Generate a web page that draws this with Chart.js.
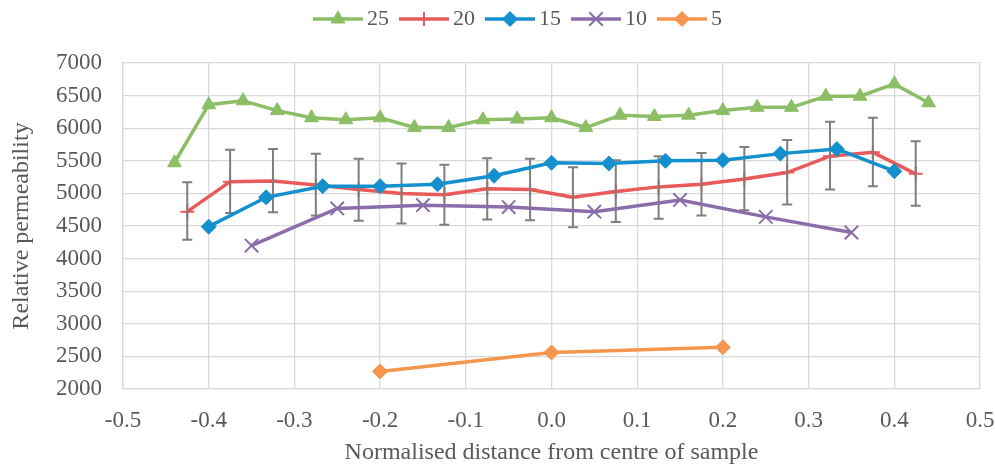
<!DOCTYPE html>
<html>
<head>
<meta charset="utf-8">
<script src="https://cdn.jsdelivr.net/npm/chart.js@4/dist/chart.umd.min.js"></script>
<style>
  html, body { margin: 0; padding: 0; background: #fff; }
</style>
</head>
<body>
<canvas id="permChart" width="995" height="466"></canvas>
<script>
// series labels as shown in legend
const seriesNames = ['25', '20', '15', '10', '5'];

// 25
const x25 = [-0.44, -0.40, -0.36, -0.32, -0.28, -0.24, -0.20, -0.16, -0.12, -0.08, -0.04, 0.00,
             0.04, 0.08, 0.12, 0.16, 0.20, 0.24, 0.28, 0.32, 0.36, 0.40, 0.44];
const perm25 = [5470, 6360, 6420, 6270, 6160, 6130, 6160, 6010, 6010, 6130, 6140, 6160,
                6010, 6200, 6180, 6200, 6270, 6320, 6320, 6490, 6490, 6680, 6390];

// 20 (with error bars)
const x20 = [-0.425, -0.375, -0.325, -0.275, -0.225, -0.175, -0.125, -0.075, -0.025,
             0.025, 0.075, 0.125, 0.175, 0.225, 0.275, 0.325, 0.375, 0.425];
const perm20 = [4720, 5180, 5190, 5130, 5060, 5000, 4980, 5070, 5060,
                4940, 5030, 5100, 5140, 5220, 5320, 5570, 5630, 5300];
const err20High = [5170, 5670, 5680, 5610, 5530, 5460, 5440, 5540, 5530,
                   5400, 5510, 5570, 5620, 5710, 5820, 6100, 6160, 5800];
const err20Low = [4290, 4700, 4710, 4660, 4580, 4540, 4520, 4600, 4590,
                  4480, 4560, 4610, 4660, 4740, 4830, 5060, 5110, 4810];

// 15
const x15 = [-0.4, -0.333, -0.267, -0.2, -0.133, -0.067, 0.0, 0.067, 0.133, 0.2, 0.267, 0.333, 0.4];
const perm15 = [4490, 4940, 5110, 5110, 5140, 5270, 5470, 5460, 5500, 5510, 5610, 5680, 5340];

// 10
const x10 = [-0.35, -0.25, -0.15, -0.05, 0.05, 0.15, 0.25, 0.35];
const perm10 = [4200, 4770, 4820, 4790, 4720, 4900, 4640, 4400];

// 5
const x5 = [-0.2, 0.0, 0.2];
const perm5 = [2270, 2560, 2640];

const FONT = 'Liberation Serif, Times New Roman, serif';
const TEXT = '#595959';
const GRID = '#D9D9D9';

const colors = ['#8CBE66', '#E95A5B', '#1590CF', '#8A6DAA', '#F5964F'];
const markers = [
    {style: 'triangle', radius: 8, border: 1},
    {style: 'cross', radius: 7, border: 2},
    {style: 'rectRot', radius: 7.5, border: 1},
    {style: 'crossRot', radius: 9.5, border: 2},
    {style: 'rectRot', radius: 7.5, border: 1}
];

const xs = [x25, x20, x15, x10, x5];
const ys = [perm25, perm20, perm15, perm10, perm5];

const datasets = seriesNames.map((name, i) => ({
    label: name,
    data: xs[i].map((x, j) => ({x: x, y: ys[i][j]})),
    borderColor: colors[i],
    backgroundColor: colors[i],
    borderWidth: 3.5,
    tension: 0,
    pointStyle: markers[i].style,
    pointRadius: markers[i].radius,
    pointHoverRadius: markers[i].radius,
    pointBorderWidth: markers[i].border,
    pointBorderColor: colors[i],
    pointBackgroundColor: colors[i],
    order: seriesNames.length - i
}));

// small canvas: line with marker in the middle, for the legend
function legendImage(i) {
    const c = document.createElement('canvas');
    c.width = 50;
    c.height = 24;
    const ctx = c.getContext('2d');
    ctx.strokeStyle = colors[i];
    ctx.fillStyle = colors[i];
    ctx.lineWidth = 3.5;
    ctx.beginPath();
    ctx.moveTo(0, 12);
    ctx.lineTo(50, 12);
    ctx.stroke();
    ctx.lineWidth = markers[i].border;
    Chart.helpers.drawPoint(ctx, {pointStyle: markers[i].style, radius: markers[i].radius, borderWidth: markers[i].border, rotation: 0}, 25, 12);
    return c;
}

const errorBars = {
    id: 'errorBars',
    afterDatasetDraw(chart, args) {
        if (args.index !== 1)
            return;
        const ctx = chart.ctx;
        const sx = chart.scales.x, sy = chart.scales.y;
        ctx.save();
        ctx.strokeStyle = '#7F7F7F';
        ctx.lineWidth = 2;
        x20.forEach((x, j) => {
            const px = sx.getPixelForValue(x);
            const top = sy.getPixelForValue(err20High[j]);
            const bot = sy.getPixelForValue(err20Low[j]);
            ctx.beginPath();
            ctx.moveTo(px, top); ctx.lineTo(px, bot);
            ctx.moveTo(px - 5, top); ctx.lineTo(px + 5, top);
            ctx.moveTo(px - 5, bot); ctx.lineTo(px + 5, bot);
            ctx.stroke();
        });
        ctx.restore();
    }
};

// nudge legend to where Excel put it
const legendShift = {
    id: 'legendShift',
    afterLayout(chart) {
        const lg = chart.legend;
        if (!lg) return;
        lg.left += 31; lg.right += 31;
        lg.top -= 23; lg.bottom -= 23;
    }
};

new Chart(document.getElementById('permChart'), {
    type: 'line',
    data: {datasets: datasets},
    plugins: [errorBars, legendShift],
    options: {
        responsive: false,
        animation: false,
        devicePixelRatio: 1,
        layout: {padding: {top: 14, right: 15, bottom: 0, left: 0}},
        plugins: {
            tooltip: {enabled: false},
            legend: {
                position: 'top',
                labels: {
                    usePointStyle: true,
                    pointStyleWidth: 36,
                    padding: 17,
                    color: TEXT,
                    font: {family: FONT, size: 22},
                    generateLabels: chart => seriesNames.map((name, i) => ({
                        text: name,
                        pointStyle: legendImage(i),
                        fillStyle: colors[i],
                        strokeStyle: colors[i],
                        lineWidth: 0,
                        hidden: false,
                        datasetIndex: i,
                        fontColor: TEXT
                    }))
                }
            }
        },
        scales: {
            x: {
                type: 'linear',
                min: -0.5,
                max: 0.5,
                ticks: {
                    stepSize: 0.1,
                    padding: 0,
                    maxRotation: 0,
                    autoSkip: false,
                    color: TEXT,
                    font: {family: FONT, size: 23},
                    callback: v => (Math.abs(v) < 1e-9 ? 0 : v).toFixed(1)
                },
                // invisible tick marks just push the labels down
                grid: {color: GRID, lineWidth: 1.3, drawTicks: true, tickLength: 18, tickColor: 'rgba(0,0,0,0)'},
                border: {color: GRID, width: 1.3},
                title: {
                    display: true,
                    text: 'Normalised distance from centre of sample',
                    color: TEXT,
                    font: {family: FONT, size: 24},
                    padding: {top: 0, bottom: -1.5}
                },
                afterFit: s => { s.height = 77; }
            },
            y: {
                min: 2000,
                max: 7000,
                ticks: {
                    stepSize: 500,
                    padding: 21,
                    color: TEXT,
                    font: {family: FONT, size: 23},
                    callback: v => String(v)
                },
                grid: {color: GRID, lineWidth: 1.3, drawTicks: false},
                border: {color: GRID, width: 1.3},
                title: {
                    display: true,
                    text: 'Relative permeability',
                    color: TEXT,
                    font: {family: FONT, size: 24},
                    padding: {top: 7, bottom: 0}
                },
                afterFit: s => { s.width = 123; }
            }
        }
    }
});
</script>
</body>
</html>
